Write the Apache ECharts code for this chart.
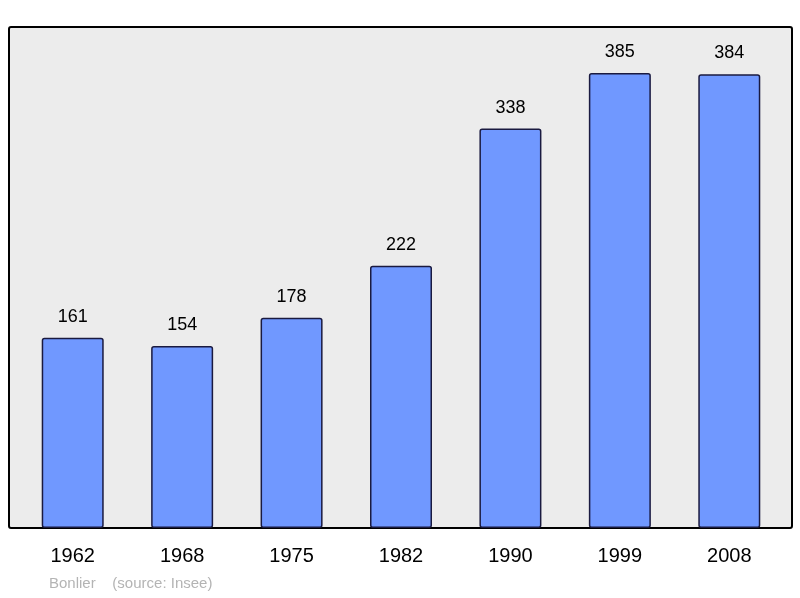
<!DOCTYPE html>
<html><head><meta charset="utf-8">
<script src="https://cdn.jsdelivr.net/npm/echarts@6/dist/echarts.min.js"></script>
<style>html,body{margin:0;padding:0;background:#fff}#c{width:800px;height:598px}</style>
</head><body><div id="c"></div>
<script>
const categories = ['1962','1968','1975','1982','1990','1999','2008'];
const population = [161,154,178,222,338,385,384];
const chart = echarts.init(document.getElementById('c'));
chart.setOption({
  animation:false,
  graphic:[
    {type:'rect',z:-10,shape:{x:9,y:27,width:783,height:501,r:2},style:{fill:'#ececec',stroke:'#000',lineWidth:2}},
    {type:'text',left:49,top:576,style:{text:'Bonlier    (source: Insee)',fill:'#b4b4b4',font:'15px "Liberation Sans", Arial'}}
  ],
  grid:{left:18,right:16,top:27,bottom:70},
  xAxis:{type:'category',data:categories,axisLine:{show:false},axisTick:{show:false},
    axisLabel:{color:'#000',fontSize:20,fontFamily:'Liberation Sans',margin:18}},
  yAxis:{type:'value',min:0,max:424,show:false,splitLine:{show:false}},
  series:[{type:'bar',data:population,barWidth:62,
    itemStyle:{color:'#7098ff',borderColor:'#1a1a40',borderWidth:1.5,borderRadius:2},
    label:{show:true,position:'top',distance:12,color:'#000',fontSize:18,fontFamily:'Liberation Sans'}}]
});
</script></body></html>
